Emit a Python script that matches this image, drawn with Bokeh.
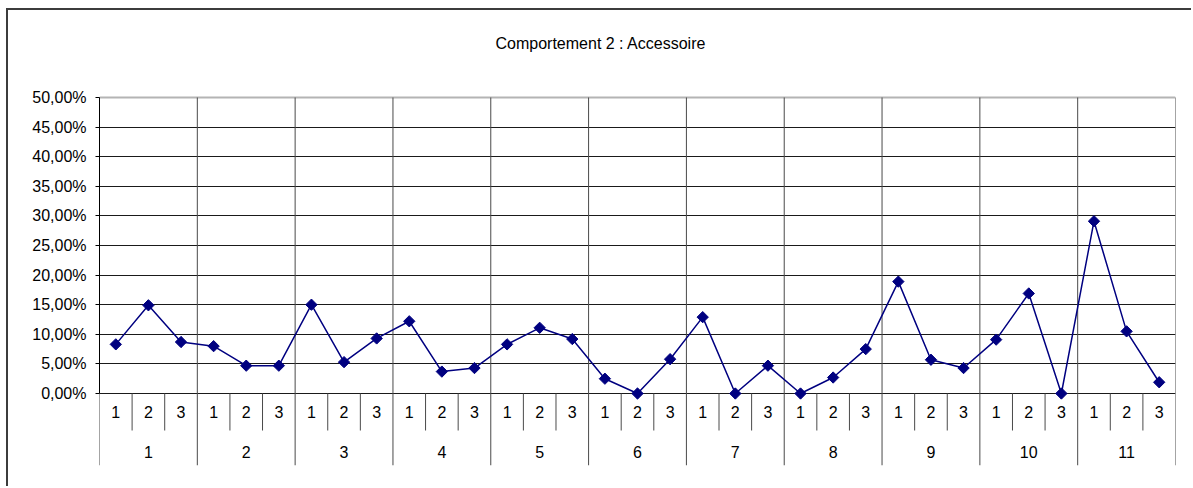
from bokeh.plotting import figure
from bokeh.models import Range1d, FixedTicker, ColumnDataSource
from bokeh.core.properties import value
from bokeh.embed import file_html
from bokeh.resources import INLINE

title = "Comportement 2 : Accessoire"
groups = ["1", "2", "3", "4", "5", "6", "7", "8", "9", "10", "11"]
subs = ["1", "2", "3"]
values = [
    8.3, 14.9, 8.7,
    8.0, 4.7, 4.7,
    15.0, 5.3, 9.3,
    12.2, 3.7, 4.3,
    8.3, 11.1, 9.2,
    2.5, 0.0, 5.8,
    12.9, 0.0, 4.7,
    0.0, 2.7, 7.5,
    18.9, 5.7, 4.3,
    9.1, 16.9, 0.0,
    29.1, 10.5, 1.9,
]
y_ticks = [0, 5, 10, 15, 20, 25, 30, 35, 40, 45, 50]

FONT = "Liberation Sans"
FS = "16px"
n_sub = len(subs)
n = len(groups) * n_sub
Y_MAX = 50
LOW = -12.16   # space below 0 for the category labels
HIGH = 54.56   # blank space above the plot area

p = figure(width=1185, height=478, output_backend="svg", toolbar_location=None,
           x_range=Range1d(0, n), y_range=Range1d(LOW, HIGH),
           min_border_left=91, min_border_right=18, min_border_top=60, min_border_bottom=23,
           styles={"border-left": "2px solid #3c3c3c", "border-top": "2px solid #3c3c3c",
                   "margin-left": "6px", "margin-top": "8px"})
p.outline_line_color = None
p.background_fill_color = "white"
p.border_fill_color = "white"

p.title.text = title
p.title.align = "left"
p.title.offset = 396
p.title.text_font = FONT
p.title.text_font_size = FS
p.title.text_font_style = "normal"
p.title.text_color = "black"
p.title.standoff = 38

p.xaxis.visible = False
p.xgrid.visible = False
p.ygrid.ticker = FixedTicker(ticks=y_ticks[:-1])
p.ygrid.grid_line_color = "#1a1a1a"
p.ygrid.grid_line_width = 1

ya = p.yaxis[0]
ya.ticker = FixedTicker(ticks=y_ticks)
ya.bounds = (0, Y_MAX)
ya.major_label_overrides = {t: f"{t:.2f}".replace(".", ",") + "%" for t in y_ticks}
ya.major_label_text_font = FONT
ya.major_label_text_font_size = FS
ya.major_label_text_color = "black"
ya.major_tick_out = 4
ya.major_tick_in = 0
ya.minor_tick_line_color = None
ya.axis_line_color = "black"
ya.major_tick_line_color = "black"
ya.major_label_standoff = 9

# top border of plot area
p.segment(x0=[0], y0=[Y_MAX], x1=[n], y1=[Y_MAX], line_color="#b4b4b4", line_width=2)

# group separators (full height, through label area)
gb = [i * n_sub for i in range(len(groups) + 1)]
p.segment(x0=gb, y0=[LOW] * len(gb), x1=gb, y1=[Y_MAX] * len(gb), line_color="#4a4a4a", line_width=1)
# sub separators in label area
sb = [i for i in range(n + 1) if i % n_sub != 0]
p.segment(x0=sb, y0=[-6.25] * len(sb), x1=sb, y1=[0] * len(sb), line_color="#4a4a4a", line_width=1)

# category labels
xs = [i + 0.5 for i in range(n)]
p.text(x=xs, y=[-3.1] * n, text=[subs[i % n_sub] for i in range(n)],
       text_align="center", text_baseline="middle", text_font=value(FONT),
       text_font_size=FS, text_color="black")
gx = [i * n_sub + n_sub / 2 for i in range(len(groups))]
p.text(x=gx, y=[-9.8] * len(groups), text=groups,
       text_align="center", text_baseline="middle", text_font=value(FONT),
       text_font_size=FS, text_color="black")

src = ColumnDataSource(dict(x=xs, y=values))
p.line("x", "y", source=src, line_color="#000080", line_width=1.5)
p.scatter("x", "y", source=src, marker="square", angle=0.785398, size=8,
          fill_color="#000080", line_color="#000080")

open("out.html", "w").write(file_html(p, INLINE))
